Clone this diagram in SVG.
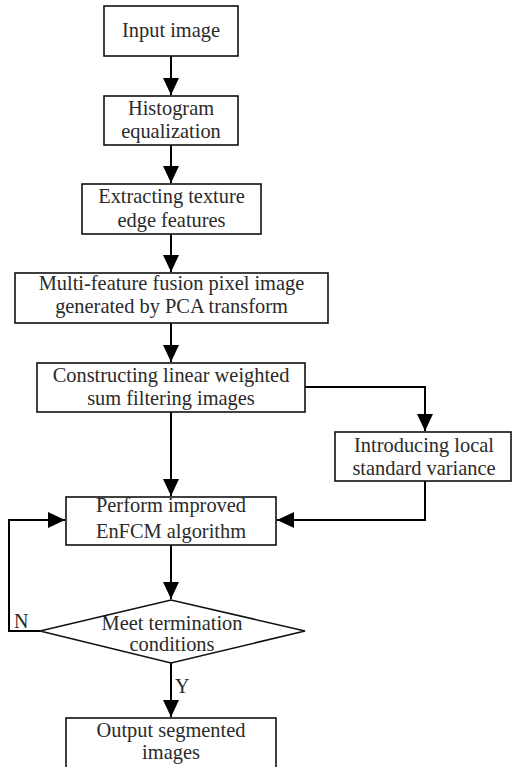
<svg xmlns="http://www.w3.org/2000/svg" width="512" height="767" viewBox="0 0 512 767">
<style>
.b{fill:#fff;stroke:#111;stroke-width:1.6}
.t{font-family:"Liberation Serif","Times New Roman",serif;font-size:20.4px;fill:#2a2a2a;text-anchor:middle}
.c{fill:none;stroke:#000;stroke-width:2;marker-end:url(#ah)}
.l{font-family:"Liberation Serif","Times New Roman",serif;font-size:20px;fill:#2a2a2a}
</style>
<defs>
<marker id="ah" markerUnits="userSpaceOnUse" markerWidth="18" markerHeight="18" viewBox="0 0 18 18" refX="17" refY="9" orient="auto">
<path d="M0,1 L17,9 L0,17 Z" fill="#000"/>
</marker>
</defs>
<rect width="512" height="767" fill="#fff"/>
<g id="connectors">
<path class="c" d="M171,56 V95"/>
<path class="c" d="M171,145 V183"/>
<path class="c" d="M171,234 V272"/>
<path class="c" d="M171,323 V362"/>
<path class="c" d="M171,412 V496"/>
<path class="c" d="M305,387 H425 V431"/>
<path class="c" d="M425,481 V520 H277"/>
<path class="c" d="M171,545 V599"/>
<path class="c" d="M40,631 H9 V520 H65"/>
<path class="c" d="M171,663 V717"/>
<text class="l" x="14" y="628">N</text>
<text class="l" x="175" y="693">Y</text>
</g>
<g id="n1"><rect class="b" x="104" y="6" width="134" height="50"/><text class="t" x="171" y="37">Input image</text></g>
<g id="n2"><rect class="b" x="104" y="96" width="134" height="49"/><text class="t" x="171" y="115">Histogram</text><text class="t" x="171" y="138">equalization</text></g>
<g id="n3"><rect class="b" x="82" y="184" width="179" height="50"/><text class="t" x="171.5" y="203">Extracting texture</text><text class="t" x="171.5" y="227">edge features</text></g>
<g id="n4"><rect class="b" x="15" y="273" width="313" height="50"/><text class="t" x="171.5" y="290">Multi-feature fusion pixel image</text><text class="t" x="171.5" y="313">generated by PCA transform</text></g>
<g id="n5"><rect class="b" x="37" y="363" width="268" height="49"/><text class="t" x="171" y="382">Constructing linear weighted</text><text class="t" x="171" y="405">sum filtering images</text></g>
<g id="n6"><rect class="b" x="335" y="432" width="176" height="49"/><text class="t" x="424" y="452">Introducing local</text><text class="t" x="424" y="475">standard variance</text></g>
<g id="n7"><rect class="b" x="66" y="497" width="210" height="48"/><text class="t" x="171" y="512">Perform improved</text><text class="t" x="171" y="538">EnFCM algorithm</text></g>
<g id="n8"><polygon class="b" points="40,631 171,600 305,631 171,663"/><text class="t" x="172" y="630">Meet termination</text><text class="t" x="172" y="651">conditions</text></g>
<g id="n9"><rect class="b" x="66" y="718" width="210" height="52"/><text class="t" x="171" y="737">Output segmented</text><text class="t" x="171" y="759">images</text></g>
</svg>
